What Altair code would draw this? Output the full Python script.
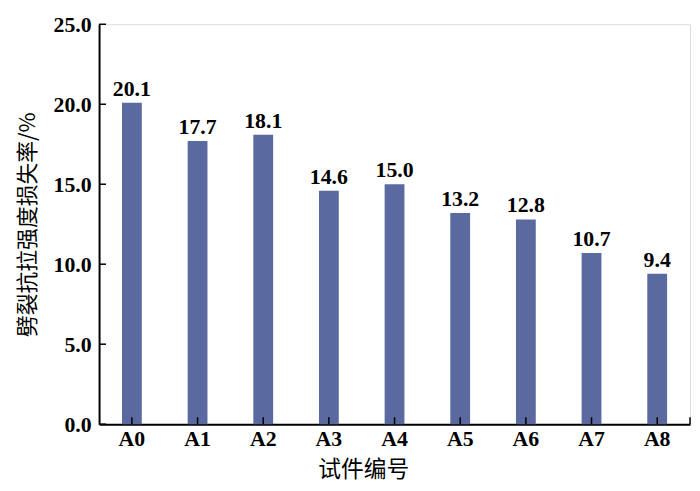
import altair as alt
import pandas as pd

categories = ["A0", "A1", "A2", "A3", "A4", "A5", "A6", "A7", "A8"]
values = [20.1, 17.7, 18.1, 14.6, 15.0, 13.2, 12.8, 10.7, 9.4]
y_ticks = [0.0, 5.0, 10.0, 15.0, 20.0, 25.0]

df = pd.DataFrame({"cat": categories, "val": values})
df["label"] = [f"{v:.1f}" for v in values]
tdf = pd.DataFrame({"t": y_ticks})

W, H = 597, 404
serif = "Liberation Serif"
cjk = "Noto Sans CJK SC"

xs = alt.Scale(domain=categories, paddingInner=0, paddingOuter=0)
ys = alt.Scale(domain=[0, 25], nice=False, zero=True)

x_enc = alt.X("cat:N", scale=xs, sort=categories,
              axis=alt.Axis(title="试件编号", titleFont=cjk, titleFontSize=23,
                            titleFontWeight="normal", titleColor="black",
                            titleX=267, titleY=35, titleAnchor="middle",
                            titleAlign="center", titleBaseline="top",
                            labelFont=serif, labelFontSize=22, labelFontWeight="bold",
                            labelColor="black", labelAngle=0, labelPadding=5,
                            ticks=False, domainColor="black", domainWidth=2))
y_enc = alt.Y("val:Q", scale=ys,
              axis=alt.Axis(title="劈裂抗拉强度损失率/%", titleFont=cjk, titleFontSize=22,
                            titleFontWeight="normal", titleColor="black", titlePadding=14,
                            labelFont=serif, labelFontSize=22, labelFontWeight="bold",
                            labelColor="black", values=y_ticks, format=".1f",
                            labelPadding=8, ticks=False, domainColor="black",
                            domainWidth=2, grid=False))

bars = alt.Chart(df).mark_bar(size=20, color="#5a6aa0").encode(x=x_enc, y=y_enc)

text = alt.Chart(df).mark_text(dy=-7, baseline="alphabetic", font=serif, fontSize=22,
                               fontWeight="bold", color="black").encode(
    x=alt.X("cat:N", scale=xs, sort=categories),
    y=alt.Y("val:Q", scale=ys),
    text="label:N")

xticks = alt.Chart(df).mark_rule(color="black", strokeWidth=1.5).encode(
    x=alt.X("cat:N", scale=xs, sort=categories),
    y=alt.value(H), y2=alt.value(H - 7))

yticks = alt.Chart(tdf).mark_rule(color="black", strokeWidth=1.5).encode(
    y=alt.Y("t:Q", scale=ys),
    x=alt.value(0), x2=alt.value(7))

endtick = alt.Chart(tdf.head(1)).mark_rule(color="black", strokeWidth=1.5).encode(
    x=alt.value(W), y=alt.value(H), y2=alt.value(H - 7))

chart = alt.layer(bars, text, xticks, yticks, endtick).properties(
    width=W, height=H,
    autosize=alt.AutoSizeParams(type="none"),
    padding={"left": 92, "top": 14, "right": 2, "bottom": 57},
).configure_view(strokeWidth=0).configure(background="white")

chart.save("out.html", embed_options={"renderer": "svg", "actions": False})
